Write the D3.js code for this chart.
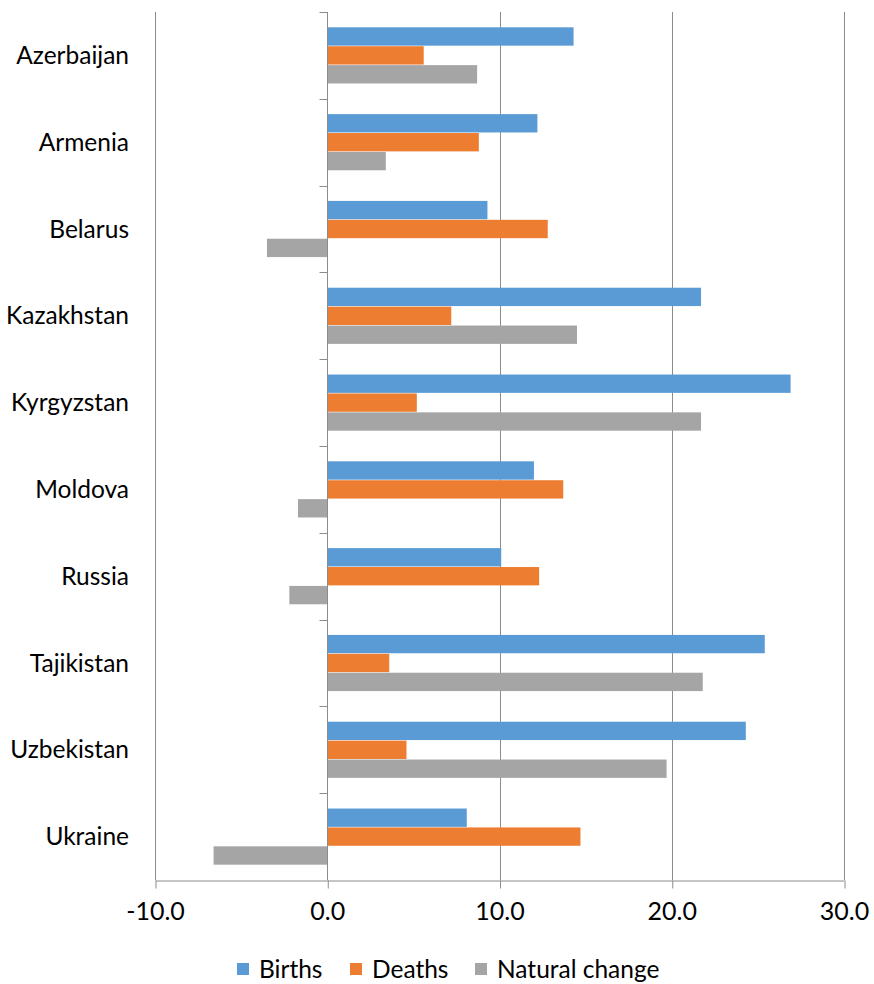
<!DOCTYPE html>
<html>
<head>
<meta charset="utf-8">
<script src="https://cdn.jsdelivr.net/npm/d3@7"></script>
<style>
  body { margin: 0; background: #fff; }
  svg text { font-family: Lato, "Open Sans", sans-serif; fill: #000; }
</style>
</head>
<body>
<svg id="chart" width="874" height="984"></svg>
<script>
const countries = ["Azerbaijan", "Armenia", "Belarus", "Kazakhstan", "Kyrgyzstan",
  "Moldova", "Russia", "Tajikistan", "Uzbekistan", "Ukraine"];
const births = [14.3, 12.2, 9.3, 21.7, 26.9, 12.0, 10.1, 25.4, 24.3, 8.1];
const deaths = [5.6, 8.8, 12.8, 7.2, 5.2, 13.7, 12.3, 3.6, 4.6, 14.7];
const naturalChange = [8.7, 3.4, -3.5, 14.5, 21.7, -1.7, -2.2, 21.8, 19.7, -6.6];
const seriesNames = ["Births", "Deaths", "Natural change"];
const seriesColors = ["#5B9BD5", "#ED7D31", "#A5A5A5"];
const xTicks = [-10, 0, 10, 20, 30];

const dms = { left: 155, right: 844, top: 12, bottom: 880 };
const svg = d3.select("#chart");

const xScale = d3.scaleLinear().domain([-10, 30]).range([dms.left, dms.right]);
const yScale = d3.scaleBand().domain(countries).range([dms.top, dms.bottom])
  .paddingInner(0).paddingOuter(0);
const inner = d3.scaleBand().domain(seriesNames)
  .range([0, yScale.bandwidth()]).paddingInner(0.03).paddingOuter(0.81);

const gridColor = "#8c8c8c";
const fmt = d => d.toFixed(1); // plain hyphen minus like the original

// vertical gridlines
svg.append("g")
  .selectAll("line")
  .data(xTicks.filter(d => d !== 0))
  .join("line")
  .attr("x1", d => Math.round(xScale(d)) + 0.5)
  .attr("x2", d => Math.round(xScale(d)) + 0.5)
  .attr("y1", dms.top)
  .attr("y2", dms.bottom)
  .attr("stroke", gridColor)
  .attr("stroke-width", 1);

// bars
const rows = countries.map((c, i) => ({
  country: c,
  values: [births[i], deaths[i], naturalChange[i]]
}));

const groups = svg.append("g")
  .selectAll("g")
  .data(rows)
  .join("g")
  .attr("transform", d => `translate(0, ${yScale(d.country)})`);

groups.selectAll("rect")
  .data(d => d.values.map((v, k) => ({ name: seriesNames[k], value: v, k })))
  .join("rect")
  .attr("x", d => xScale(Math.min(0, d.value)))
  .attr("width", d => Math.abs(xScale(d.value) - xScale(0)))
  .attr("y", d => inner(d.name))
  .attr("height", inner.bandwidth())
  .attr("fill", d => seriesColors[d.k]);

// bottom axis
const xAxis = svg.append("g")
  .attr("transform", `translate(0, ${dms.bottom + 0.5})`)
  .call(d3.axisBottom(xScale).tickValues(xTicks).tickFormat(fmt)
    .tickSize(8).tickPadding(14).tickSizeOuter(0));
xAxis.select(".domain").attr("stroke", gridColor);
xAxis.selectAll(".tick line").attr("stroke", gridColor)
  .attr("transform", "translate(0.5,0)");
xAxis.selectAll(".tick text").attr("font-size", 25)
  .attr("font-family", "Lato, 'Open Sans', sans-serif").attr("fill", "#000");

// category axis at zero
const x0 = Math.round(xScale(0)) + 0.5;
svg.append("line")
  .attr("x1", x0).attr("x2", x0)
  .attr("y1", dms.top).attr("y2", dms.bottom)
  .attr("stroke", gridColor);

const bandEdges = countries.map(c => yScale(c));
svg.append("g")
  .selectAll("line")
  .data(bandEdges)
  .join("line")
  .attr("x1", x0 - 8).attr("x2", x0)
  .attr("y1", d => Math.round(d) + 0.5)
  .attr("y2", d => Math.round(d) + 0.5)
  .attr("stroke", gridColor);

svg.append("g")
  .selectAll("text")
  .data(countries)
  .join("text")
  .attr("x", 129)
  .attr("y", d => yScale(d) + yScale.bandwidth() / 2)
  .attr("dy", "0.35em")
  .attr("text-anchor", "end")
  .attr("font-size", 24.5)
  .text(d => d);

// legend
const legendX = [237, 350, 475];
const legend = svg.append("g")
  .selectAll("g")
  .data(seriesNames)
  .join("g")
  .attr("transform", (d, i) => `translate(${legendX[i]}, 963)`);
legend.append("rect")
  .attr("width", 12).attr("height", 12)
  .attr("fill", (d, i) => seriesColors[i]);
legend.append("text")
  .attr("x", 22).attr("y", 6).attr("dy", "0.35em")
  .attr("font-size", 24.5)
  .text(d => d);
</script>
</body>
</html>
